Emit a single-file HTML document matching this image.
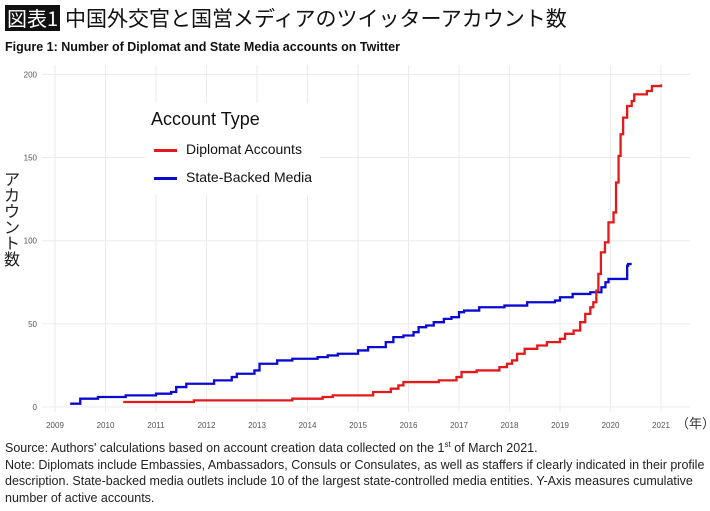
<!DOCTYPE html>
<html><head><meta charset="utf-8">
<style>
body{margin:0;background:#fff;width:710px;height:511px;overflow:hidden;font-family:"Liberation Sans","Noto Sans CJK JP",sans-serif;}
.t{position:absolute;white-space:nowrap}
</style></head><body>
<div style="position:relative;width:710px;height:511px">
<div class="t" style="left:5px;top:5px;background:#111;color:#fff;font-size:20px;line-height:26px;padding:0 2px;font-family:'Noto Sans CJK JP',sans-serif">図表1</div>
<div class="t" style="left:65px;top:4px;font-size:21px;line-height:28px;color:#111;font-family:'Noto Sans CJK JP',sans-serif">中国外交官と国営メディアのツイッターアカウント数</div>
<div class="t" style="left:5px;top:40px;font-size:12.5px;font-weight:bold;color:#111">Figure 1: Number of Diplomat and State Media accounts on Twitter</div>
<svg id="chart" width="710" height="511" style="position:absolute;left:0;top:0"></svg>
<div class="t" style="left:2px;top:170px;width:20px;font-size:16px;line-height:16px;white-space:normal;text-align:center;color:#222;font-family:'Noto Sans CJK JP',sans-serif">ア<br>カ<br>ウ<br>ン<br>ト<br>数</div>
<div class="t" style="left:676px;top:413px;font-size:13px;color:#333;font-family:'Noto Sans CJK JP',sans-serif">（年）</div>
<div style="position:absolute;left:145px;top:103px;width:175px;height:92px;background:#fff">
<div class="t" style="left:6px;top:6px;font-size:18px;color:#111">Account Type</div>
<div style="position:absolute;left:9px;top:46px;width:23px;height:3px;background:#e31a1c"></div>
<div class="t" style="left:41px;top:38px;font-size:14px;color:#111">Diplomat Accounts</div>
<div style="position:absolute;left:9px;top:74px;width:23px;height:3px;background:#0a0ad0"></div>
<div class="t" style="left:41px;top:66px;font-size:14px;color:#111">State-Backed Media</div>
</div>
<div style="position:absolute;left:5px;top:437px;width:705px;font-size:12.5px;line-height:16.5px;color:#222">Source: Authors' calculations based on account creation data collected on the 1<sup style="font-size:8px">st</sup> of March 2021.<br>Note: Diplomats include Embassies, Ambassadors, Consuls or Consulates, as well as staffers if clearly indicated in their profile description. State-backed media outlets include 10 of the largest state-controlled media entities. Y-Axis measures cumulative number of active accounts.</div>
</div>
<script>
const xTicks=[2009,2010,2011,2012,2013,2014,2015,2016,2017,2018,2019,2020,2021];
const yTicks=[0,50,100,150,200];
const mediaX=[2009.3,2009.5,2009.85,2010.4,2011.0,2011.3,2011.4,2011.6,2012.15,2012.5,2012.6,2012.95,2013.05,2013.4,2013.7,2014.2,2014.4,2014.6,2015.0,2015.2,2015.55,2015.7,2015.9,2016.1,2016.2,2016.35,2016.5,2016.7,2016.85,2017.0,2017.1,2017.4,2017.9,2018.35,2018.9,2019.0,2019.25,2019.6,2019.82,2019.9,2019.96,2020.33,2020.35,2020.42];
const mediaY=[2,5,6,7,8,9,12,14,16,18,20,22,26,28,29,30,31,32,34,36,39,42,43,45,48,49,51,53,54,57,58,60,61,63,64,66,68,69,72,75,77,85,86,86];
const diplX=[2010.35,2011.75,2013.7,2014.3,2014.5,2015.3,2015.65,2015.8,2015.9,2016.6,2016.95,2017.05,2017.35,2017.8,2017.95,2018.05,2018.15,2018.3,2018.55,2018.74,2019.0,2019.1,2019.27,2019.4,2019.5,2019.6,2019.66,2019.72,2019.76,2019.81,2019.89,2019.96,2020.06,2020.11,2020.16,2020.2,2020.25,2020.33,2020.42,2020.47,2020.72,2020.82,2021.0];
const diplY=[3,4,5,6,7,9,11,13,15,16,18,21,22,24,26,28,32,35,37,39,41,44,46,51,56,60,63,70,80,93,99,111,117,135,151,164,174,181,184,188,190,193,194];
const NS="http://www.w3.org/2000/svg";
const svg=document.getElementById('chart');
const X=v=>55+(v-2009)*50.5, Y=v=>407-v*1.663;
function mk(t,a){const e=document.createElementNS(NS,t);for(const k in a)e.setAttribute(k,a[k]);svg.appendChild(e);return e;}
xTicks.forEach(v=>{
const g=mk('line',{x1:X(v),x2:X(v),y1:65,y2:412,stroke:'#ebebeb','stroke-width':1});


const t=mk('text',{x:X(v),y:428,'font-size':8,fill:'#555','text-anchor':'middle','font-family':'Liberation Sans'});
t.textContent=v;


});
yTicks.forEach(v=>{
const g=mk('line',{x1:42,x2:690,y1:Y(v),y2:Y(v),stroke:'#ebebeb','stroke-width':1});


const t=mk('text',{x:37,y:Y(v)+3,'font-size':8,fill:'#555','text-anchor':'end','font-family':'Liberation Sans'});
t.textContent=v;


});
function step(xs,ys,c,name){
let d='M'+X(xs[0])+','+Y(ys[0]);
for(let i=1;i<xs.length;i++){d+=' H'+X(xs[i])+' V'+Y(ys[i]);}
const p=mk('path',{d:d,fill:'none',stroke:c,'stroke-width':2.3});


}
step(mediaX,mediaY,'#0a0ad0','media-line');
step(diplX,diplY,'#e31a1c','diplomat-line');
</script>
</body></html>
